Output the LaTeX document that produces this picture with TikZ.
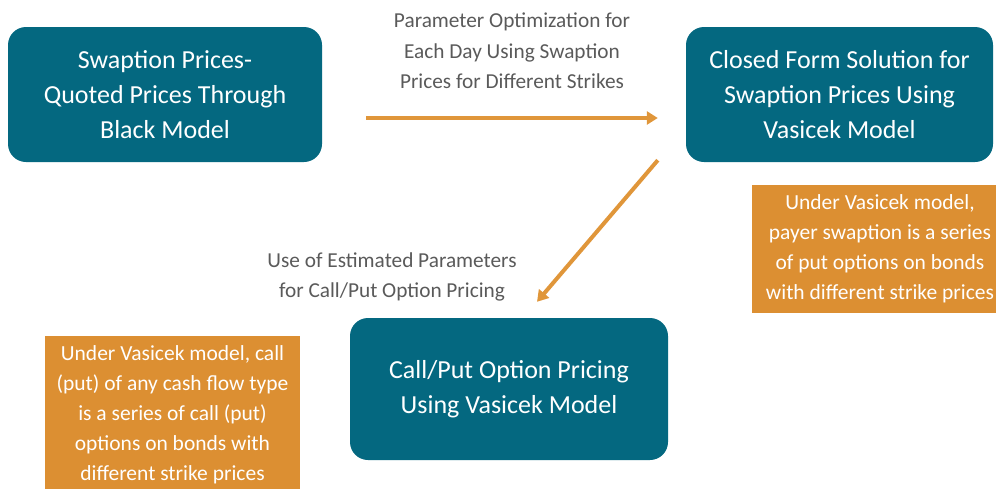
\documentclass[tikz,border=0pt]{standalone}
\usepackage{fontspec}
\setmainfont{Carlito}
\definecolor{boxteal}{RGB}{4, 104, 128}
\definecolor{noteorange}{RGB}{220, 143, 50}
\definecolor{flowgold}{RGB}{224, 150, 58}
\definecolor{labelgray}{RGB}{90, 90, 90}
\usetikzlibrary{arrows.meta, positioning, calc}

\begin{document}
\begin{tikzpicture}[x=1pt, y=-1pt,
    stagebox/.style={fill=boxteal, rounded corners=18pt, text=white, align=center, inner sep=0pt, font=\fontsize{26}{35}\selectfont},
    notebox/.style={fill=noteorange, text=white, align=center, inner sep=0pt, font=\fontsize{21.5}{30}\selectfont},
    flowlabel/.style={text=labelgray, align=center, font=\fontsize{21.3}{30.5}\selectfont},
    flow/.style={-{Triangle[length=11pt, width=13pt]}, line width=4pt, flowgold}]
  \useasboundingbox (0,0) rectangle (996,488);

  % Stage boxes
  \node[stagebox, minimum width=314pt, minimum height=135pt] (quoted) at (165, 94.5) {
    Swaption Prices-\\
    Quoted Prices Through\\
    Black Model
  };
  \node[stagebox, minimum width=307pt, minimum height=135pt] (closed) at (839.5, 94.5) {
    Closed Form Solution for\\
    Swaption Prices Using\\
    Vasicek Model
  };
  \node[stagebox, minimum width=318pt, minimum height=142pt] (pricing) at (509, 389) {
    Call/Put Option Pricing\\
    Using Vasicek Model
  };

  % Note boxes
  \node[notebox, minimum width=256pt, minimum height=128pt] (swapnote) at (880, 249) {
    Under Vasicek model,\\
    payer swaption is a series\\
    of put options on bonds\\
    with different strike prices
  };
  \node[notebox, minimum width=255pt, minimum height=158pt] (optnote) at (172.5, 415) {
    Under Vasicek model, call\\
    (put) of any cash flow type\\
    is a series of call (put)\\
    options on bonds with\\
    different strike prices
  };

  % Arrows
  \draw[flow] ([xshift=44pt, yshift=-23.5pt]quoted.east) -- ([xshift=-28pt, yshift=-23.5pt]closed.west);
  \draw[flow] ([xshift=-28pt, yshift=2pt]closed.south west) -- ([xshift=28pt, yshift=16pt]pricing.north);

  % Arrow labels
  \node[flowlabel] (optlabel) at (512, 51) {
    Parameter Optimization for\\
    Each Day Using Swaption\\
    Prices for Different Strikes
  };
  \node[flowlabel] (uselabel) at (392, 277) {
    Use of Estimated Parameters\\
    for Call/Put Option Pricing
  };
\end{tikzpicture}
\end{document}
